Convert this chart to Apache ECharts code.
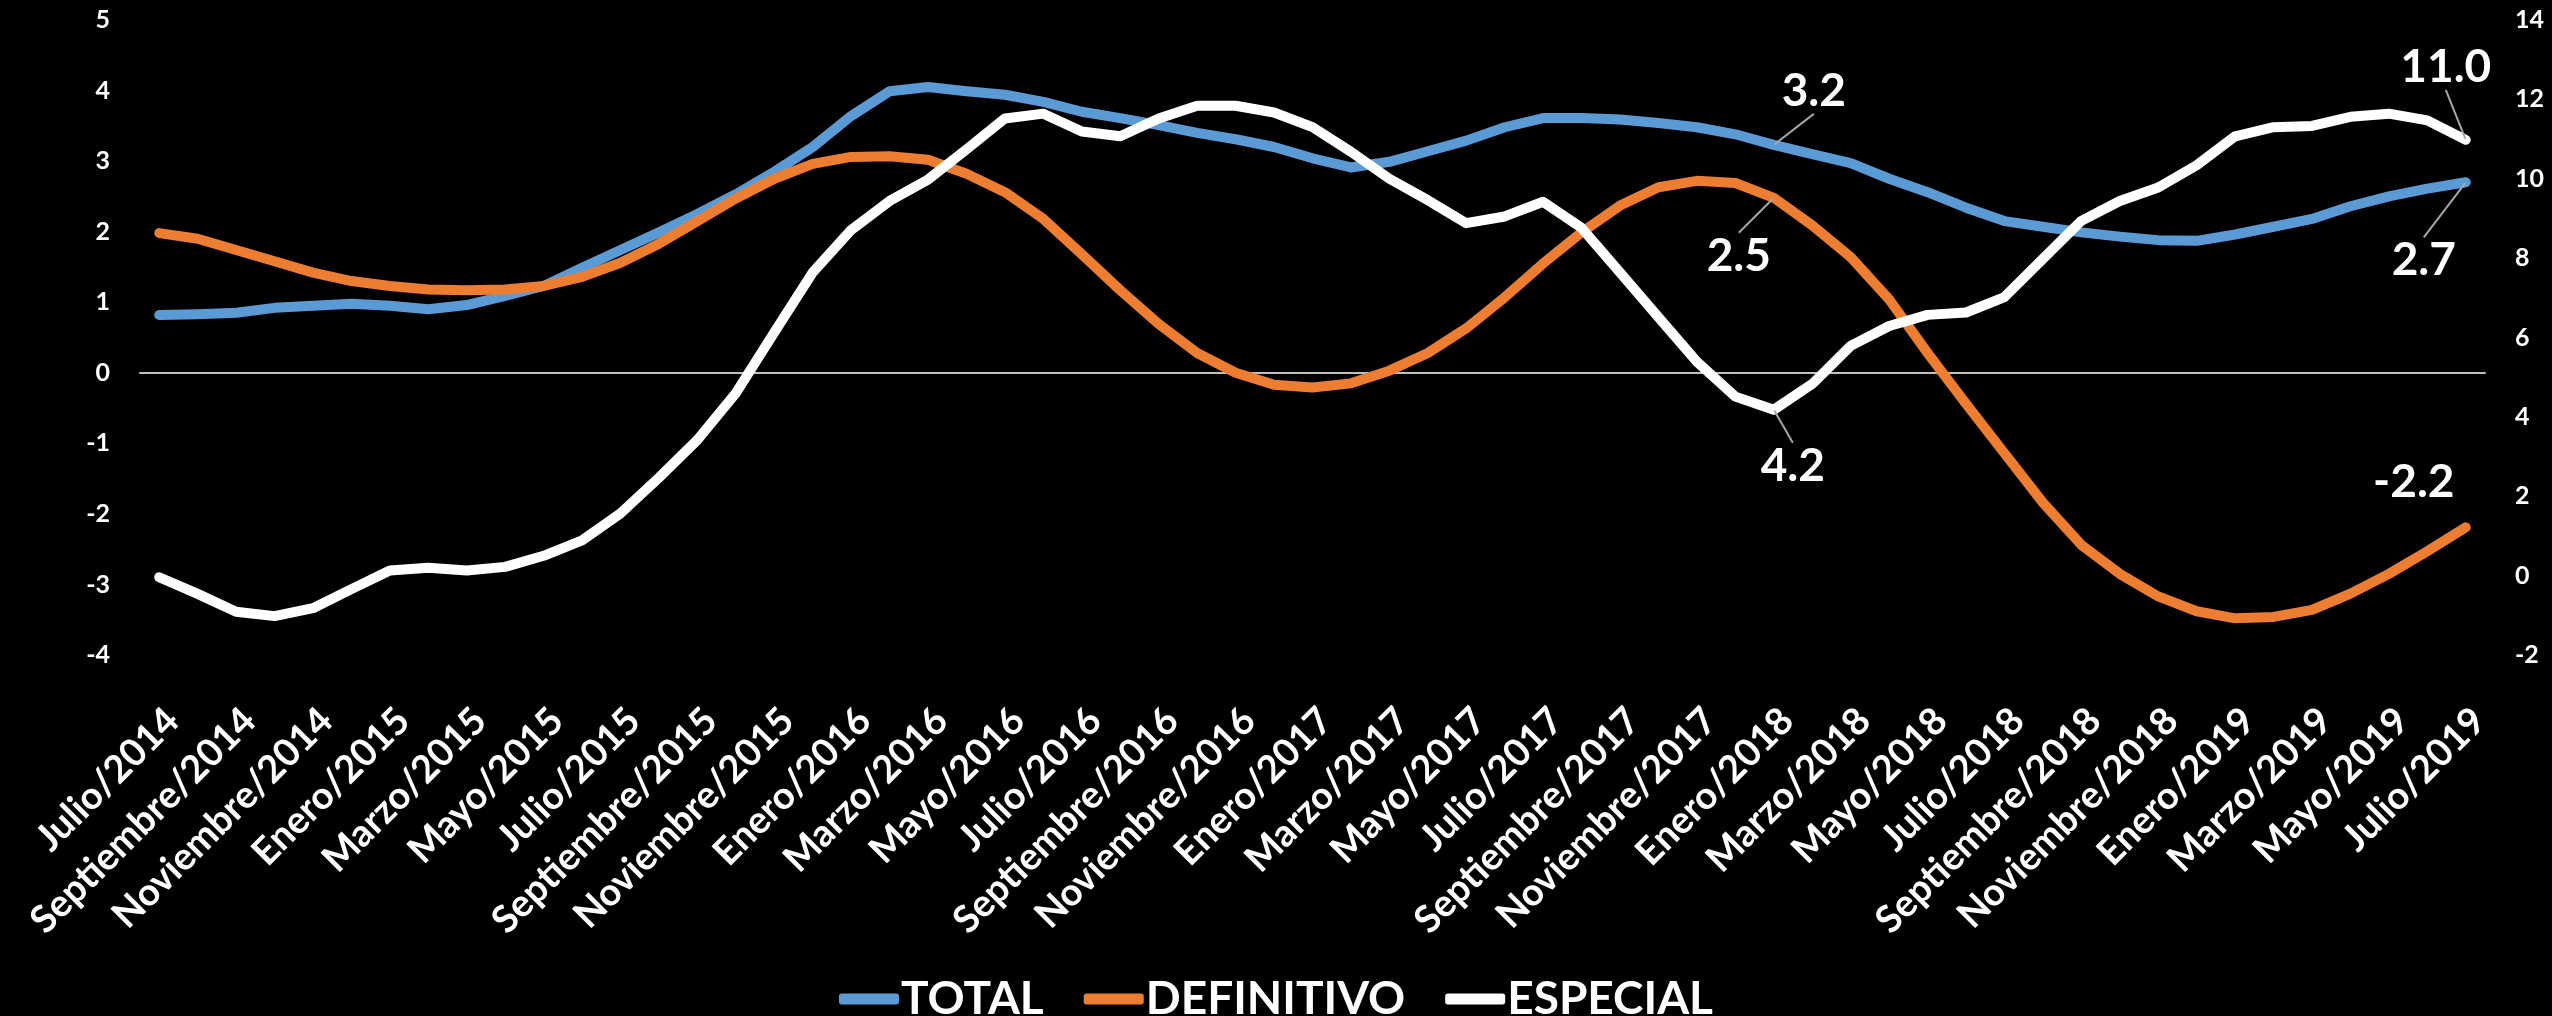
<!DOCTYPE html>
<html>
<head>
<meta charset="utf-8">
<script src="https://cdn.jsdelivr.net/npm/echarts@6/dist/echarts.min.js"></script>
<style>
html,body{margin:0;padding:0;background:#000;}
#chart{width:2552px;height:1016px;}
</style>
</head>
<body>
<div id="chart"></div>
<script>
const categories = [
  'Julio/2014','Agosto/2014','Septiembre/2014','Octubre/2014','Noviembre/2014','Diciembre/2014',
  'Enero/2015','Febrero/2015','Marzo/2015','Abril/2015','Mayo/2015','Junio/2015',
  'Julio/2015','Agosto/2015','Septiembre/2015','Octubre/2015','Noviembre/2015','Diciembre/2015',
  'Enero/2016','Febrero/2016','Marzo/2016','Abril/2016','Mayo/2016','Junio/2016',
  'Julio/2016','Agosto/2016','Septiembre/2016','Octubre/2016','Noviembre/2016','Diciembre/2016',
  'Enero/2017','Febrero/2017','Marzo/2017','Abril/2017','Mayo/2017','Junio/2017',
  'Julio/2017','Agosto/2017','Septiembre/2017','Octubre/2017','Noviembre/2017','Diciembre/2017',
  'Enero/2018','Febrero/2018','Marzo/2018','Abril/2018','Mayo/2018','Junio/2018',
  'Julio/2018','Agosto/2018','Septiembre/2018','Octubre/2018','Noviembre/2018','Diciembre/2018',
  'Enero/2019','Febrero/2019','Marzo/2019','Abril/2019','Mayo/2019','Junio/2019',
  'Julio/2019'
];

const total = [
  0.82, 0.83, 0.85, 0.92, 0.95, 0.98, 0.95, 0.90, 0.96, 1.09,
  1.23, 1.49, 1.74, 1.99, 2.25, 2.53, 2.85, 3.20, 3.64, 3.99,
  4.05, 3.99, 3.94, 3.84, 3.70, 3.61, 3.51, 3.40, 3.31, 3.20,
  3.04, 2.91, 2.99, 3.14, 3.29, 3.48, 3.61, 3.61, 3.59, 3.54,
  3.48, 3.38, 3.23, 3.10, 2.97, 2.75, 2.56, 2.34, 2.15, 2.07,
  1.99, 1.93, 1.88, 1.87, 1.96, 2.07, 2.18, 2.36, 2.50, 2.61,
  2.70
];

const definitivo = [
  1.98, 1.90, 1.74, 1.58, 1.42, 1.30, 1.23, 1.18, 1.17, 1.18,
  1.23, 1.36, 1.56, 1.83, 2.15, 2.47, 2.75, 2.96, 3.06, 3.07,
  3.02, 2.82, 2.56, 2.18, 1.68, 1.17, 0.69, 0.28, 0.00, -0.17,
  -0.21, -0.15, 0.03, 0.28, 0.63, 1.07, 1.55, 1.99, 2.37, 2.63,
  2.72, 2.69, 2.48, 2.09, 1.64, 1.04, 0.28, -0.44, -1.14, -1.84,
  -2.44, -2.85, -3.17, -3.38, -3.48, -3.46, -3.36, -3.13, -2.85, -2.53,
  -2.19
];

const especial = [
  -0.04, -0.46, -0.91, -1.02, -0.82, -0.34, 0.13, 0.20, 0.13, 0.22,
  0.50, 0.89, 1.57, 2.47, 3.42, 4.60, 6.13, 7.64, 8.71, 9.44,
  9.98, 10.74, 11.52, 11.64, 11.19, 11.07, 11.52, 11.84, 11.84, 11.67,
  11.30, 10.68, 10.00, 9.46, 8.88, 9.05, 9.42, 8.76, 7.64, 6.51,
  5.39, 4.51, 4.18, 4.83, 5.79, 6.29, 6.57, 6.63, 7.02, 7.98,
  8.94, 9.44, 9.78, 10.34, 11.07, 11.30, 11.33, 11.56, 11.64, 11.47,
  10.98
];

const seriesNames = ['TOTAL', 'DEFINITIVO', 'ESPECIAL'];
const labeledIndices = [42, 60];

// label offsets (style only): seriesIndex -> dataIndex -> [dx, dy, showLeader]
const labelOffsets = {
  0: {42: [40, -54, true], 60: [-42, 78, true]},
  1: {42: [-35, 58, true], 60: [-52, -45, false]},
  2: {42: [19, 56, true], 60: [-20, -73, true]}
};

const FONT = 'Lato';
const colors = ['#5B9BD5', '#ED7D31', '#FFFFFF'];

function buildData(values, sIdx) {
  return values.map((v, i) => {
    if (labeledIndices.indexOf(i) >= 0) {
      const off = labelOffsets[sIdx][i];
      return {value: v, label: {show: true}, labelLine: {show: off[2]}};
    }
    return v;
  });
}

function makeSeries(idx, values, yAxisIndex) {
  return {
    name: seriesNames[idx],
    type: 'line',
    yAxisIndex: yAxisIndex,
    data: buildData(values, idx),
    showSymbol: true,
    showAllSymbol: true,
    symbol: 'circle',
    symbolSize: 2,
    itemStyle: {color: colors[idx]},
    lineStyle: {color: colors[idx], width: 10, cap: 'round', join: 'round'},
    z: 3 + idx,
    label: {
      show: false,
      position: 'inside',
      color: '#FFFFFF',
      fontFamily: FONT,
      fontWeight: 'bold',
      fontSize: 46,
      formatter: p => Number(p.value).toFixed(1)
    },
    labelLine: {show: true, lineStyle: {color: '#A6A6A6', width: 2}},
    labelLayout: function (params) {
      const off = (labelOffsets[params.seriesIndex] || {})[params.dataIndex];
      if (!off) return {};
      return {dx: off[0], dy: off[1]};
    },
    emphasis: {disabled: true}
  };
}

const chart = echarts.init(document.getElementById('chart'), null, {renderer: 'canvas'});

const option = {
  backgroundColor: '#000000',
  animation: false,
  color: colors,
  textStyle: {fontFamily: FONT},
  grid: {left: 140, right: 67, top: 20, bottom: 361, containLabel: false},
  legend: {
    data: seriesNames,
    top: 971,
    left: 'center',
    icon: 'roundRect',
    itemWidth: 60,
    itemHeight: 11,
    itemGap: 40,
    textStyle: {color: '#FFFFFF', fontFamily: FONT, fontWeight: 'bold', fontSize: 46, padding: [0, 0, 0, -3]}
  },
  xAxis: [
    {
      type: 'category',
      data: categories,
      boundaryGap: true,
      position: 'bottom',
      axisLine: {show: false, onZero: false},
      axisTick: {show: false},
      splitLine: {show: false},
      axisLabel: {
        interval: 1,
        rotate: 45,
        color: '#FFFFFF',
        fontFamily: FONT,
        fontWeight: 'bold',
        fontSize: 38,
        margin: 46,
        align: 'right',
        verticalAlign: 'top'
      }
    },
    {
      type: 'category',
      data: categories,
      boundaryGap: true,
      position: 'bottom',
      axisLine: {show: true, onZero: true, onZeroAxisIndex: 0, lineStyle: {color: '#BFBFBF', width: 2}},
      axisTick: {show: false},
      axisLabel: {show: false},
      splitLine: {show: false}
    }
  ],
  yAxis: [
    {
      type: 'value',
      min: -4, max: 5, interval: 1,
      axisLine: {show: false},
      axisTick: {show: false},
      splitLine: {show: false},
      axisLabel: {color: '#FFFFFF', fontFamily: FONT, fontWeight: 'bold', fontSize: 25, margin: 30}
    },
    {
      type: 'value',
      min: -2, max: 14, interval: 2,
      position: 'right',
      axisLine: {show: false},
      axisTick: {show: false},
      splitLine: {show: false},
      axisLabel: {color: '#FFFFFF', fontFamily: FONT, fontWeight: 'bold', fontSize: 25, margin: 30}
    }
  ],
  series: [
    makeSeries(0, total, 0),
    makeSeries(1, definitivo, 0),
    makeSeries(2, especial, 1)
  ]
};

chart.setOption(option);
</script>
</body>
</html>
